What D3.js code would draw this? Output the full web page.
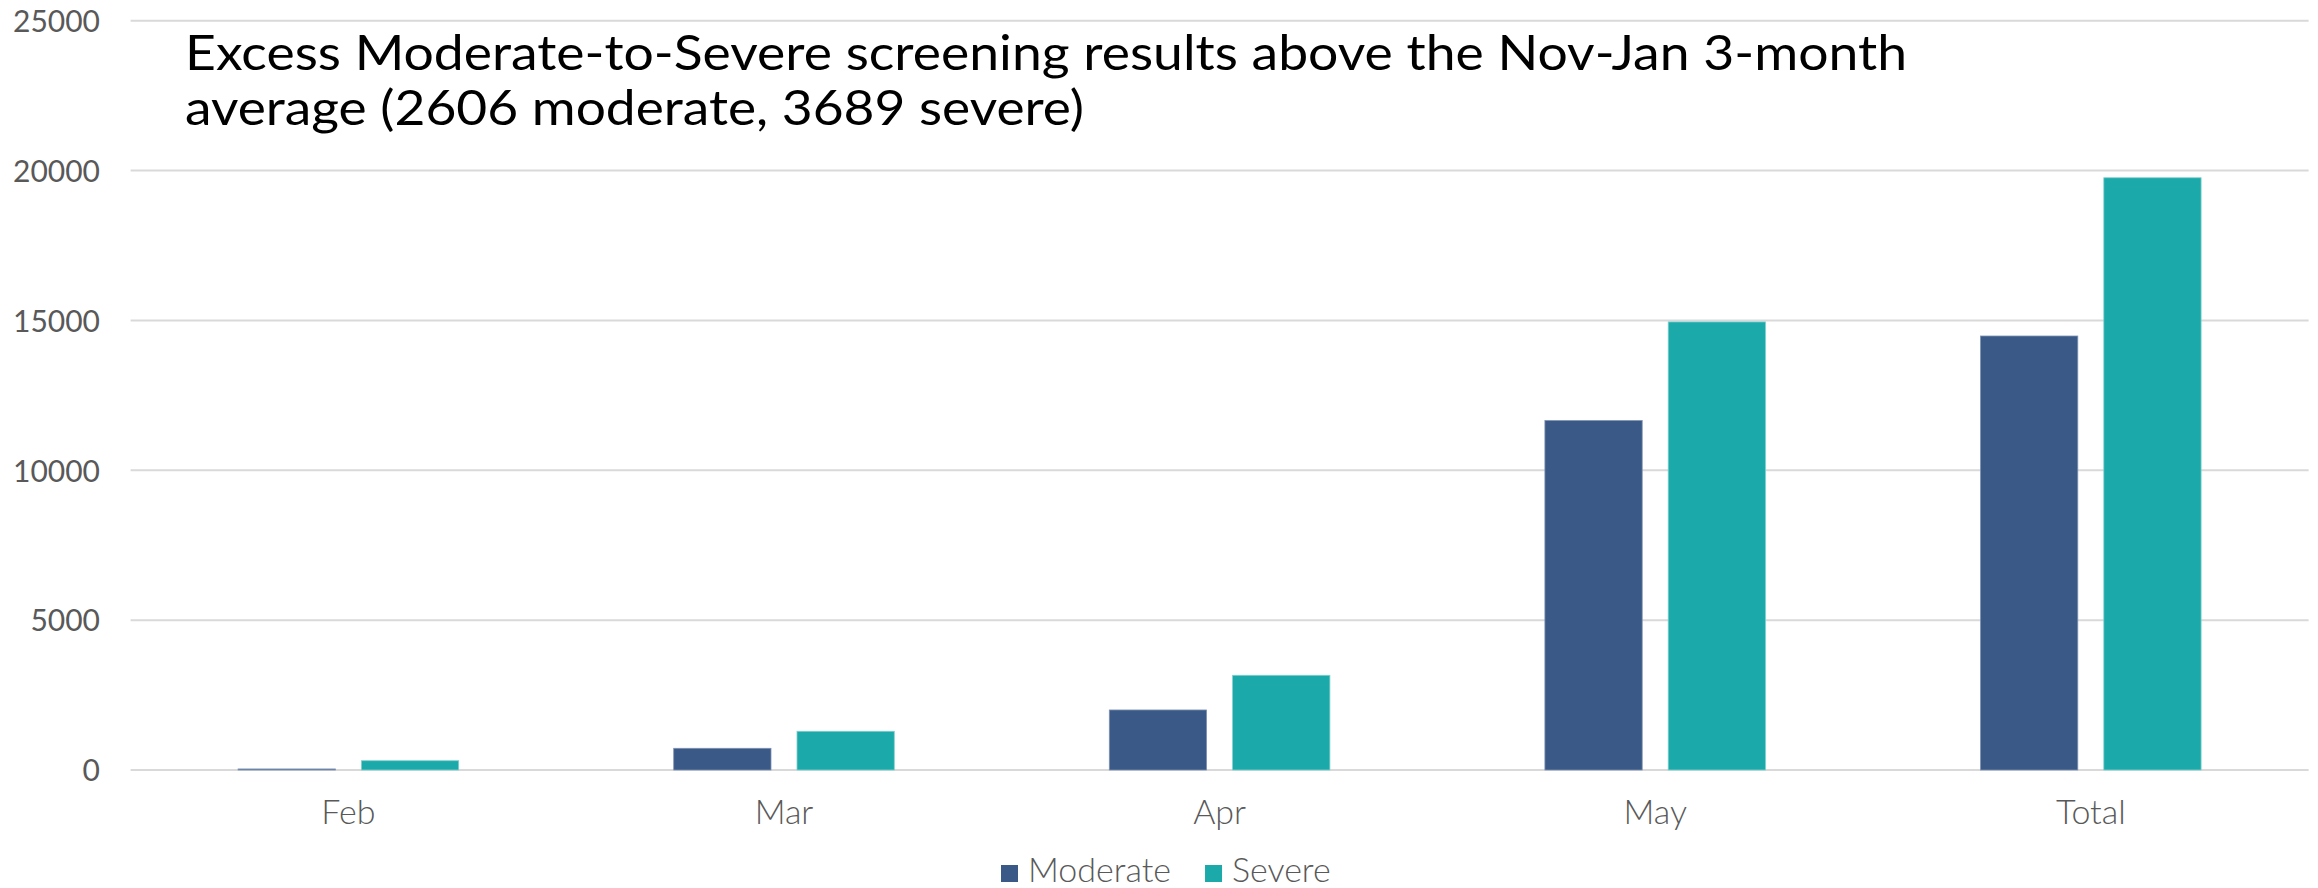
<!DOCTYPE html>
<html>
<head>
<meta charset="utf-8">
<script src="https://cdn.jsdelivr.net/npm/d3@7"></script>
<style>
  html, body { margin: 0; padding: 0; background: #ffffff; }
  svg { display: block; }
  text { font-family: Lato, "Open Sans", sans-serif; }
</style>
</head>
<body>
<svg id="chart" width="2318" height="888"></svg>
<script>
// Monthly excess screening results, grouped by severity
const categories = ["Feb", "Mar", "Apr", "May", "Total"];
const seriesNames = ["Moderate", "Severe"];
const moderateValues = [35, 724, 2003, 11660, 14480];
const severeValues = [310, 1292, 3160, 14950, 19760];
const yTicks = [0, 5000, 10000, 15000, 20000, 25000];
const titleLines = [
  "Excess Moderate-to-Severe screening results above the Nov-Jan 3-month",
  "average (2606 moderate, 3689 severe)"
];

const colors = { Moderate: "#3A5986", Severe: "#1BAAA9" };
const strokes = { Moderate: "#7E92B2", Severe: "#7FD0CF" };

const svg = d3.select("#chart");
const plot = { left: 130.6, right: 2308.6, top: 20.7, bottom: 770 };

const rows = categories.map((c, i) => ({
  category: c,
  Moderate: moderateValues[i],
  Severe: severeValues[i]
}));

const x0 = d3.scaleBand()
  .domain(categories)
  .range([plot.left, plot.right])
  .paddingInner(0.4936)
  .paddingOuter(0.2468);

const x1 = d3.scaleBand()
  .domain(seriesNames)
  .range([0, x0.bandwidth()])
  .paddingInner(0.211)
  .paddingOuter(0);

const y = d3.scaleLinear()
  .domain([0, 25000])
  .range([plot.bottom, plot.top]);

// Horizontal gridlines
svg.append("g")
  .selectAll("line")
  .data(yTicks)
  .join("line")
  .attr("x1", plot.left)
  .attr("x2", plot.right)
  .attr("y1", d => y(d))
  .attr("y2", d => y(d))
  .attr("stroke", "#D9D9D9")
  .attr("stroke-width", 2);

// Y axis labels
const yAxis = d3.axisLeft(y)
  .tickValues(yTicks)
  .tickFormat(d3.format("d"))
  .tickSize(0)
  .tickPadding(0);
const yg = svg.append("g")
  .attr("transform", `translate(100,0)`)
  .call(yAxis);
yg.select(".domain").remove();
yg.selectAll("text")
  .attr("fill", "#595959")
  .style("font-size", "30px")
  .style("font-family", "Lato, sans-serif")
  .attr("dy", "0.36em");

// Bars
const groups = svg.append("g")
  .selectAll("g")
  .data(rows)
  .join("g")
  .attr("transform", d => `translate(${x0(d.category)},0)`);

groups.selectAll("rect")
  .data(d => seriesNames.map(s => ({ series: s, value: d[s] })))
  .join("rect")
  .attr("x", d => x1(d.series))
  .attr("width", x1.bandwidth())
  .attr("y", d => y(d.value))
  .attr("height", d => y(0) - y(d.value))
  .attr("fill", d => colors[d.series])
  .attr("stroke", d => strokes[d.series])
  .attr("stroke-width", 0.8);

// X axis labels
const xAxis = d3.axisBottom(x0).tickSize(0).tickPadding(0);
const xg = svg.append("g")
  .attr("transform", `translate(0,${plot.bottom})`)
  .call(xAxis);
xg.select(".domain").remove();
xg.selectAll("text")
  .attr("fill", "#595959")
  .style("font-size", "34px")
  .style("font-family", "Lato, sans-serif")
  .style("font-weight", 300)
  .attr("dy", null)
  .attr("y", 54);

// Title, fitted to its line widths
const titleWidths = [1722, 899];
const title = svg.append("g");
titleLines.forEach((line, i) => {
  title.append("text")
    .attr("x", 185)
    .attr("y", 70 + i * 55)
    .attr("fill", "#000000")
    .style("font-size", "48px")
    .attr("textLength", titleWidths[i])
    .attr("lengthAdjust", "spacingAndGlyphs")
    .text(line);
});

// Legend
const legend = svg.append("g");
let lx = 1001;
seriesNames.forEach(s => {
  legend.append("rect")
    .attr("x", lx)
    .attr("y", 865)
    .attr("width", 17)
    .attr("height", 17)
    .attr("fill", colors[s]);
  const t = legend.append("text")
    .attr("x", lx + 27)
    .attr("y", 882)
    .attr("fill", "#595959")
    .style("font-size", "34px")
    .style("font-weight", 300)
    .text(s);
  lx += 27 + t.node().getComputedTextLength() + 34;
});
</script>
</body>
</html>
